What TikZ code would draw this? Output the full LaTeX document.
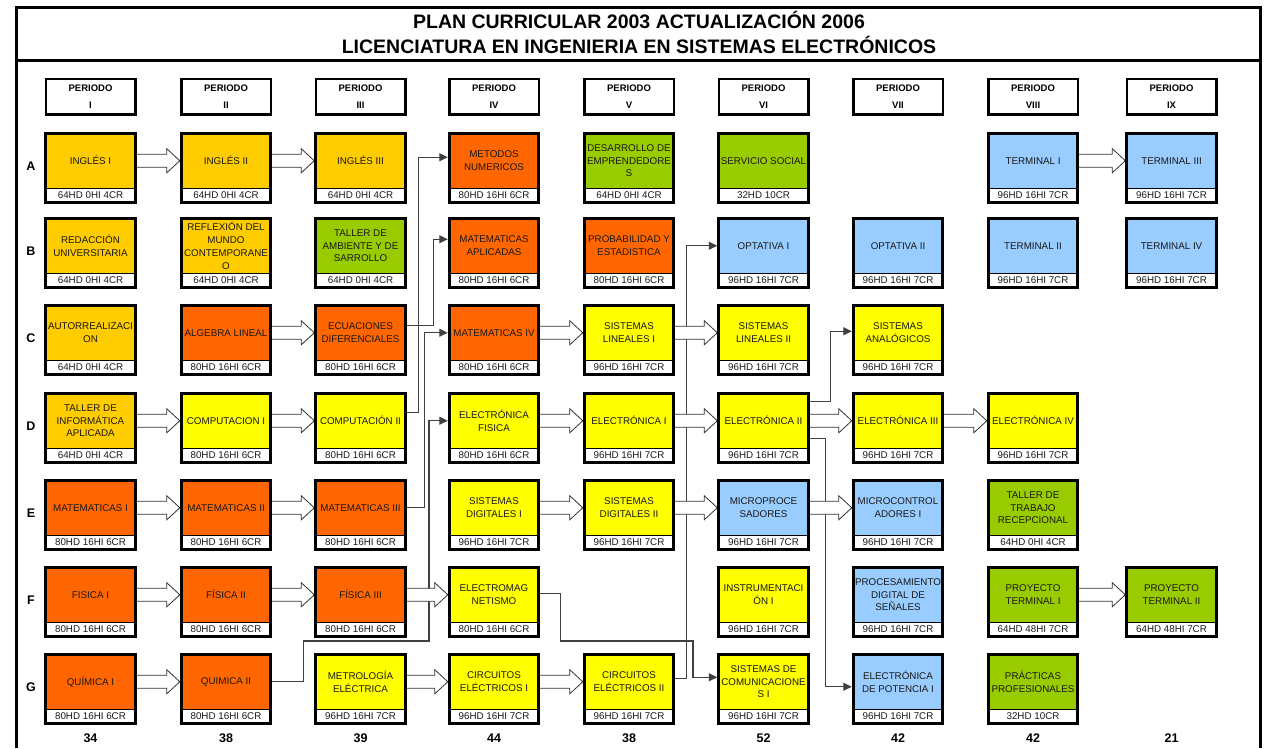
\documentclass[tikz,border=0pt]{standalone}
\usepackage{fontspec}
\setmainfont{Liberation Sans}
\usetikzlibrary{calc,arrows.meta}
\pgfdeclarelayer{bg}
\pgfsetlayers{bg,main}
\definecolor{cgold}{HTML}{FFCC00}
\definecolor{corange}{HTML}{FF6600}
\definecolor{cyellow}{HTML}{FFFF00}
\definecolor{cgreen}{HTML}{99CC00}
\definecolor{cblue}{HTML}{99CCFF}
\tikzset{
 crs/.style={rectangle, minimum width=89pt, minimum height=54.5pt, inner sep=0pt, align=center, font=\fontsize{9.8}{12.8}\selectfont, text=black!90},
 crd/.style={rectangle, fill=white, minimum width=89pt, minimum height=13.5pt, inner sep=0pt, font=\fontsize{9.8}{11}\selectfont, text=black!90},
 brd/.style={line width=3pt},
 sepl/.style={line width=1.2pt},
 hdr/.style={draw, line width=2.5pt, minimum width=89.5pt, minimum height=35.5pt, inner sep=0pt, align=center, font=\bfseries\fontsize{9.5}{17}\selectfont},
 blk/.style={draw=black!80, fill=white, line width=0.8pt, line join=miter},
 conn/.style={draw=black!75, line width=1.2pt, -{Triangle[length=8.5pt,width=8pt]}, line join=miter},
 rowlbl/.style={font=\bfseries\fontsize{12.5}{14}\selectfont},
 tot/.style={font=\bfseries\fontsize{12.5}{14}\selectfont},
 ttl/.style={align=center, font=\bfseries\fontsize{19.5}{25}\selectfont},
 frm/.style={line width=3pt},
}
\newcommand\course[6]{%
 \node[crs, fill=#4] (#1) at ({#2},{#3+28.75}) {#5};
 \node[crd, anchor=north] (#1c) at (#1.south) {#6};
 \draw[sepl] (#1.south west) -- (#1.south east);
 \draw[brd] (#1.north west) rectangle (#1c.south east);
}
\newcommand\barr[2]{%
 \begin{pgfonlayer}{bg}
 \draw[blk] ($(#1.east)+(0,-6.5)$) -- ($(#2.west)+(-14.5,-6.5)$) -- ($(#2.west)+(-14.5,-12)$) -- ($(#2.west)+(-1.5,0)$) -- ($(#2.west)+(-14.5,12)$) -- ($(#2.west)+(-14.5,6.5)$) -- ($(#1.east)+(0,6.5)$);
 \end{pgfonlayer}}
\def\cI{90.5}\def\cII{226}\def\cIII{360.5}\def\cIV{494}\def\cV{629}
\def\cVI{763.5}\def\cVII{898}\def\cVIII{1033}\def\cIX{1171.5}
\def\rA{132}\def\rB{217}\def\rC{304}\def\rD{392}\def\rE{479}\def\rF{566}\def\rG{653}
\begin{document}
\begin{tikzpicture}[x=1pt,y=-1pt]
\useasboundingbox (0,0) rectangle (1265,748);
% frame
\draw[frm] (16.5,748) -- (16.5,7) -- (1260,7) -- (1260,748);
\draw[frm] (16.5,60) -- (1260,60);
\node[ttl] (title) at (639,32.5) {PLAN CURRICULAR 2003 ACTUALIZACIÓN 2006\\LICENCIATURA EN INGENIERIA EN SISTEMAS ELECTRÓNICOS};
% headers
\node[hdr] (pI) at (\cI,96.5) {PERIODO\\I};
\node[hdr] (pII) at (\cII,96.5) {PERIODO\\II};
\node[hdr] (pIII) at (\cIII,96.5) {PERIODO\\III};
\node[hdr] (pIV) at (\cIV,96.5) {PERIODO\\IV};
\node[hdr] (pV) at (\cV,96.5) {PERIODO\\V};
\node[hdr] (pVI) at (\cVI,96.5) {PERIODO\\VI};
\node[hdr] (pVII) at (\cVII,96.5) {PERIODO\\VII};
\node[hdr] (pVIII) at (\cVIII,96.5) {PERIODO\\VIII};
\node[hdr] (pIX) at (\cIX,96.5) {PERIODO\\IX};
% row labels
\node[rowlbl] (lA) at (31,\rA+34) {A};
\node[rowlbl] (lB) at (31,\rB+34) {B};
\node[rowlbl] (lC) at (31,\rC+34) {C};
\node[rowlbl] (lD) at (31,\rD+34) {D};
\node[rowlbl] (lE) at (31,\rE+34) {E};
\node[rowlbl] (lF) at (31,\rF+34) {F};
\node[rowlbl] (lG) at (31,\rG+34) {G};
% column I
\course{ing1}{\cI}{\rA}{cgold}{INGLÉS I}{64HD 0HI 4CR}
\course{redac}{\cI}{\rB}{cgold}{REDACCIÓN\\UNIVERSITARIA}{64HD 0HI 4CR}
\course{autor}{\cI}{\rC}{cgold}{AUTORREALIZACI\\ON}{64HD 0HI 4CR}
\course{tinf}{\cI}{\rD}{cgold}{TALLER DE\\INFORMÁTICA\\APLICADA}{64HD 0HI 4CR}
\course{mat1}{\cI}{\rE}{corange}{MATEMATICAS I}{80HD 16HI 6CR}
\course{fis1}{\cI}{\rF}{corange}{FISICA I}{80HD 16HI 6CR}
\course{quim1}{\cI}{\rG}{corange}{QUÍMICA I}{80HD 16HI 6CR}
% column II
\course{ing2}{\cII}{\rA}{cgold}{INGLÉS II}{64HD 0HI 4CR}
\course{refl}{\cII}{\rB}{cgold}{REFLEXIÓN DEL\\MUNDO\\CONTEMPORANE\\O}{64HD 0HI 4CR}
\course{alg}{\cII}{\rC}{corange}{ALGEBRA LINEAL}{80HD 16HI 6CR}
\course{comp1}{\cII}{\rD}{cyellow}{COMPUTACION I}{80HD 16HI 6CR}
\course{mat2}{\cII}{\rE}{corange}{MATEMATICAS II}{80HD 16HI 6CR}
\course{fis2}{\cII}{\rF}{corange}{FÍSICA II}{80HD 16HI 6CR}
\course{quim2}{\cII}{\rG}{corange}{QUIMICA II}{80HD 16HI 6CR}
% column III
\course{ing3}{\cIII}{\rA}{cgold}{INGLÉS III}{64HD 0HI 4CR}
\course{tamb}{\cIII}{\rB}{cgreen}{TALLER DE\\AMBIENTE Y DE\\SARROLLO}{64HD 0HI 4CR}
\course{ecuac}{\cIII}{\rC}{corange}{ECUACIONES\\DIFERENCIALES}{80HD 16HI 6CR}
\course{comp2}{\cIII}{\rD}{cyellow}{COMPUTACIÓN II}{80HD 16HI 6CR}
\course{mat3}{\cIII}{\rE}{corange}{MATEMATICAS III}{80HD 16HI 6CR}
\course{fis3}{\cIII}{\rF}{corange}{FÍSICA III}{80HD 16HI 6CR}
\course{metro}{\cIII}{\rG}{cyellow}{METROLOGÍA\\ELÉCTRICA}{96HD 16HI 7CR}
% column IV
\course{metodos}{\cIV}{\rA}{corange}{METODOS\\NUMERICOS}{80HD 16HI 6CR}
\course{matapl}{\cIV}{\rB}{corange}{MATEMATICAS\\APLICADAS}{80HD 16HI 6CR}
\course{mat4}{\cIV}{\rC}{corange}{MATEMATICAS IV}{80HD 16HI 6CR}
\course{elecfis}{\cIV}{\rD}{cyellow}{ELECTRÓNICA\\FISICA}{80HD 16HI 6CR}
\course{sdig1}{\cIV}{\rE}{cyellow}{SISTEMAS\\DIGITALES I}{96HD 16HI 7CR}
\course{emag}{\cIV}{\rF}{cyellow}{ELECTROMAG\\NETISMO}{80HD 16HI 6CR}
\course{circ1}{\cIV}{\rG}{cyellow}{CIRCUITOS\\ELÉCTRICOS I}{96HD 16HI 7CR}
% column V
\course{desem}{\cV}{\rA}{cgreen}{DESARROLLO DE\\EMPRENDEDORE\\S}{64HD 0HI 4CR}
\course{prob}{\cV}{\rB}{corange}{PROBABILIDAD Y\\ESTADISTICA}{80HD 16HI 6CR}
\course{slin1}{\cV}{\rC}{cyellow}{SISTEMAS\\LINEALES I}{96HD 16HI 7CR}
\course{elec1}{\cV}{\rD}{cyellow}{ELECTRÓNICA I}{96HD 16HI 7CR}
\course{sdig2}{\cV}{\rE}{cyellow}{SISTEMAS\\DIGITALES II}{96HD 16HI 7CR}
\course{circ2}{\cV}{\rG}{cyellow}{CIRCUITOS\\ELÉCTRICOS II}{96HD 16HI 7CR}
% column VI
\course{servicio}{\cVI}{\rA}{cgreen}{SERVICIO SOCIAL}{32HD 10CR}
\course{opt1}{\cVI}{\rB}{cblue}{OPTATIVA I}{96HD 16HI 7CR}
\course{slin2}{\cVI}{\rC}{cyellow}{SISTEMAS\\LINEALES II}{96HD 16HI 7CR}
\course{elec2}{\cVI}{\rD}{cyellow}{ELECTRÓNICA II}{96HD 16HI 7CR}
\course{micro}{\cVI}{\rE}{cblue}{MICROPROCE\\SADORES}{96HD 16HI 7CR}
\course{instr}{\cVI}{\rF}{cyellow}{INSTRUMENTACI\\ÓN I}{96HD 16HI 7CR}
\course{sistcom}{\cVI}{\rG}{cyellow}{SISTEMAS DE\\COMUNICACIONE\\S I}{96HD 16HI 7CR}
% column VII
\course{opt2}{\cVII}{\rB}{cblue}{OPTATIVA II}{96HD 16HI 7CR}
\course{sanalog}{\cVII}{\rC}{cyellow}{SISTEMAS\\ANALÓGICOS}{96HD 16HI 7CR}
\course{elec3}{\cVII}{\rD}{cyellow}{ELECTRÓNICA III}{96HD 16HI 7CR}
\course{mctrl}{\cVII}{\rE}{cblue}{MICROCONTROL\\ADORES I}{96HD 16HI 7CR}
\course{pds}{\cVII}{\rF}{cblue}{PROCESAMIENTO\\DIGITAL DE\\SEÑALES}{96HD 16HI 7CR}
\course{potencia}{\cVII}{\rG}{cblue}{ELECTRÓNICA\\DE POTENCIA I}{96HD 16HI 7CR}
% column VIII
\course{term1}{\cVIII}{\rA}{cblue}{TERMINAL I}{96HD 16HI 7CR}
\course{term2}{\cVIII}{\rB}{cblue}{TERMINAL II}{96HD 16HI 7CR}
\course{elec4}{\cVIII}{\rD}{cyellow}{ELECTRÓNICA IV}{96HD 16HI 7CR}
\course{ttr}{\cVIII}{\rE}{cgreen}{TALLER DE\\TRABAJO\\RECEPCIONAL}{64HD 0HI 4CR}
\course{proy1}{\cVIII}{\rF}{cgreen}{PROYECTO\\TERMINAL I}{64HD 48HI 7CR}
\course{pract}{\cVIII}{\rG}{cgreen}{PRÁCTICAS\\PROFESIONALES}{32HD 10CR}
% column IX
\course{term3}{\cIX}{\rA}{cblue}{TERMINAL III}{96HD 16HI 7CR}
\course{term4}{\cIX}{\rB}{cblue}{TERMINAL IV}{96HD 16HI 7CR}
\course{proy2}{\cIX}{\rF}{cgreen}{PROYECTO\\TERMINAL II}{64HD 48HI 7CR}
% totals
\node[tot] (t1) at (\cI,738) {34};
\node[tot] (t2) at (\cII,738) {38};
\node[tot] (t3) at (\cIII,738) {39};
\node[tot] (t4) at (\cIV,738) {44};
\node[tot] (t5) at (\cV,738) {38};
\node[tot] (t6) at (\cVI,738) {52};
\node[tot] (t7) at (\cVII,738) {42};
\node[tot] (t8) at (\cVIII,738) {42};
\node[tot] (t9) at (\cIX,738) {21};
% thin connectors
\begin{pgfonlayer}{bg}
\draw[conn] ($(comp2.east)+(0,-8)$) -- ++(13.5,0) |- ($(metodos.west)+(-1.5,-3.5)$);
\draw[conn] ($(ecuac.east)+(0,-7.5)$) -- ++(28,0) |- ($(matapl.west)+(-1.5,-6.5)$);
\draw[conn] (mat3.east) -- ++(19,0) |- ($(mat4.west)+(-1.5,0)$);
\draw[conn] (quim2.east) -- ++(32.5,0) |- (429,641) |- ($(elecfis.west)+(-1.5,0)$);
\draw[conn] ($(emag.east)+(0,-1.5)$) -- ++(21.5,0) |- (693,641) |- ($(sistcom.west)+(-1.5,-4.5)$);
\draw[conn] ($(circ2.east)+(0,-3.5)$) -- ++(12.5,0) |- ($(opt1.west)+(-1.5,0)$);
\draw[conn] ($(elec2.east)+(0,-19.5)$) -- ++(22,0) |- ($(sanalog.west)+(-1.5,-1.5)$);
\draw[conn] ($(elec2.east)+(0,17.5)$) -- ++(17,0) |- ($(potencia.west)+(-1.5,5)$);
\end{pgfonlayer}
% block arrows
\barr{ing1}{ing2}\barr{ing2}{ing3}\barr{term1}{term3}
\barr{alg}{ecuac}\barr{mat4}{slin1}\barr{slin1}{slin2}
\barr{tinf}{comp1}\barr{comp1}{comp2}\barr{elecfis}{elec1}\barr{elec1}{elec2}\barr{elec2}{elec3}\barr{elec3}{elec4}
\barr{mat1}{mat2}\barr{mat2}{mat3}\barr{sdig1}{sdig2}\barr{sdig2}{micro}\barr{micro}{mctrl}
\barr{fis1}{fis2}\barr{fis2}{fis3}\barr{fis3}{emag}\barr{proy1}{proy2}
\barr{quim1}{quim2}\barr{metro}{circ1}\barr{circ1}{circ2}
\end{tikzpicture}
\end{document}
